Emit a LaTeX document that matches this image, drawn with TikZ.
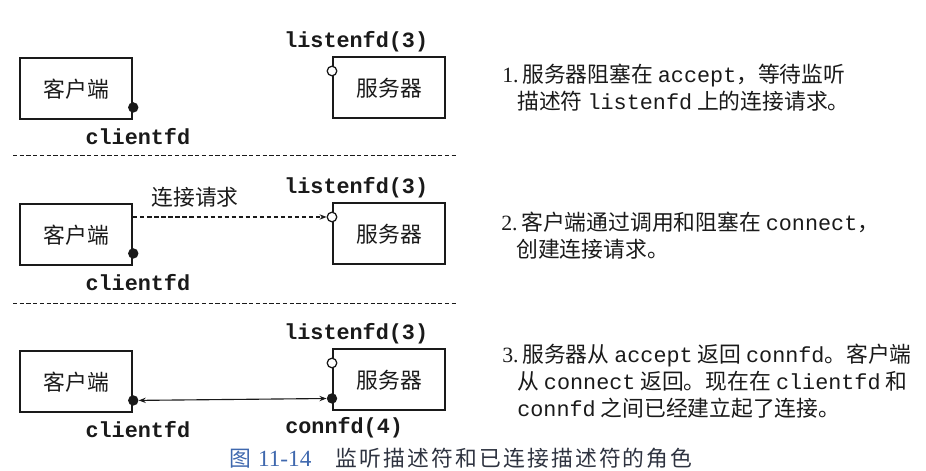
\documentclass[tikz,border=0pt]{standalone}
\usepackage{fontspec}
\setmainfont{Noto Sans CJK SC}
\setmonofont{Liberation Mono}
\newfontfamily\numfont{Liberation Serif}
\newfontfamily\captionfont{Noto Sans CJK SC}[LetterSpace=10]
\usetikzlibrary{arrows.meta,calc}
\definecolor{ink}{HTML}{1A1A1A}
\definecolor{captionblue}{HTML}{3F68AE}
\definecolor{captionink}{HTML}{2E3340}

\begin{document}
\begin{tikzpicture}[
  x=0.25mm, y=-0.25mm,
  font=\fontsize{15.5}{19.2}\selectfont,
  >={Stealth[length=5pt, width=3.8pt]},
  hostbox/.style={draw=ink, line width=1.6pt, minimum width=28mm, minimum height=15.3mm, anchor=north west, text=ink, inner sep=0pt},
  fdlabel/.style={font=\fontsize{15.5}{18}\selectfont\ttfamily\bfseries, text=ink, anchor=west, inner sep=0pt},
  fdopen/.style={circle, draw=ink, fill=white, line width=0.9pt, inner sep=0pt, minimum size=2.4mm},
  fdclosed/.style={circle, fill=ink, inner sep=0pt, minimum size=2.6mm},
  note/.style={anchor=west, align=left, text=ink, inner sep=0pt},
  separator/.style={draw=ink, line width=0.7pt, dash pattern=on 3pt off 1.8pt},
  request/.style={->, draw=ink, line width=0.8pt, dash pattern=on 3pt off 2pt},
  link/.style={<->, draw=ink, line width=0.8pt}
]
\useasboundingbox (0,0) rectangle (926,471);

% Client and server of each step, with their descriptors
\foreach \i/\cy/\sy in {1/57/56, 2/203/202, 3/350/348} {
  \node[hostbox] (client\i) at (19,\cy) {客户端};
  \node[hostbox] (server\i) at (332,\sy) {服务器};
  \node[fdopen] (listen\i) at ($(server\i.north west)+(0,15)$) {};
  \node[fdclosed] (clientfd\i) at ($(client\i.south east)+(0,-13)$) {};
  \node[fdlabel] (listenlabel\i) at ($(server\i.north west)+(-48,-14)$) {listenfd(3)};
  \node[fdlabel] (clientlabel\i) at ($(client\i.south east)+(-48,16)$) {clientfd};
}

% Step separators
\draw[separator] (13,155) -- (458,155);
\draw[separator] (13,303) -- (458,303);

% Step 2: connection request
\draw[request] (listen2 -| client2.east) -- (listen2.west) node[pos=0.32, above=2.2mm, text=ink, inner sep=0pt] (requestlabel) {连接请求};

% Step 3: connected descriptor
\node[fdclosed] (connfd3) at ($(server3.south west)+(0,-13)$) {};
\node[fdlabel] (connlabel3) at ($(server3.south west)+(-47,16)$) {connfd(4)};
\draw[link] (clientfd3) -- (connfd3);

% Notes
\node[note] (note1) at (502,88) {{\numfont 1.}\,服务器阻塞在 \texttt{accept}，等待监听\\\hspace*{10.7pt}描述符 \texttt{listenfd} 上的连接请求。};
\node[note] (note2) at (501,236) {{\numfont 2.}\,客户端通过调用和阻塞在 \texttt{connect}，\\\hspace*{10.7pt}创建连接请求。};
\node[note] (note3) at (502,381) {{\numfont 3.}\,服务器从 \texttt{accept} 返回 \texttt{connfd}。客户端\\\hspace*{10.7pt}从 \texttt{connect} 返回。现在在 \texttt{clientfd} 和\\\hspace*{10.7pt}\texttt{connfd} 之间已经建立起了连接。};

% Caption
\node[anchor=west, inner sep=0pt] (caption) at (229,458) {\captionfont\textcolor{captionblue}{图 {\numfont\fontsize{16.5}{18}\selectfont 11-14}}\hspace{1.1em}\textcolor{captionink}{监听描述符和已连接描述符的角色}};
\end{tikzpicture}
\end{document}
